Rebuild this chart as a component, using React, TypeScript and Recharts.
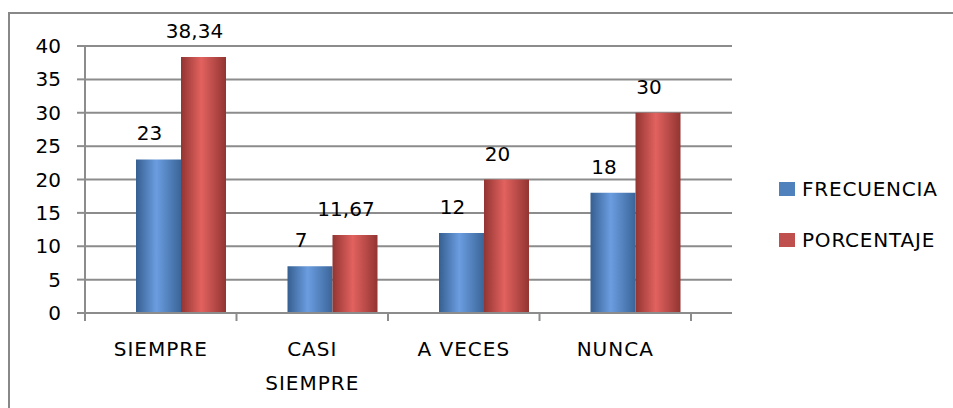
import React from "react";
import { BarChart, Bar, XAxis, YAxis, CartesianGrid, LabelList } from "recharts";

const categories = ["SIEMPRE", "CASI SIEMPRE", "A VECES", "NUNCA"];
const categoryLines = [["SIEMPRE"], ["CASI", "SIEMPRE"], ["A VECES"], ["NUNCA"]];
const frecuencia = [23, 7, 12, 18];
const porcentaje = [38.34, 11.67, 20, 30];
const yTicks = [0, 5, 10, 15, 20, 25, 30, 35, 40];
const seriesNames = ["FRECUENCIA", "PORCENTAJE"];
const seriesColors = ["#4f81bd", "#c0504d"];

const data = categories.map((c, i) => ({
  cat: c,
  frecuencia: frecuencia[i],
  porcentaje: porcentaje[i],
}));

const W = 953;
const H = 408;
const PLOT_LEFT = 85;
const PLOT_RIGHT = 732;
const PLOT_TOP = 46;
const PLOT_BOTTOM = 313;
const DEPTH = 41;
const X_AXIS_H = 60;
const BAND = (PLOT_RIGHT - PLOT_LEFT - DEPTH) / categories.length;
const FONT = "'DejaVu Sans', Verdana, sans-serif";
const GRID = "#8c8c8c";

const fmt = (v: number) => String(v).replace(".", ",");

const CatTick = (props: any) => {
  const { x, y, index } = props;
  const lines = categoryLines[index] || [];
  return (
    <g>
      <line x1={x - BAND / 2} x2={x - BAND / 2} y1={y} y2={y + 8} stroke={GRID} strokeWidth={2} />
      {index === categories.length - 1 && (
        <line x1={x + BAND / 2} x2={x + BAND / 2} y1={y} y2={y + 8} stroke={GRID} strokeWidth={2} />
      )}
      {lines.map((l, i) => (
        <text
          key={i}
          x={x}
          y={y + 36 + i * 34}
          textAnchor="middle"
          dominantBaseline="central"
          fontSize={20}
          letterSpacing={1}
          fontFamily={FONT}
          fill="#000"
        >
          {l}
        </text>
      ))}
    </g>
  );
};

const makeLabel = (props: any) => {
  const { x, y, width, value } = props;
  return (
    <text
      x={x + width / 2 - 9}
      y={y - 26}
      textAnchor="middle"
      dominantBaseline="central"
      fontSize={20}
      fontFamily={FONT}
      fill="#000"
    >
      {fmt(value)}
    </text>
  );
};

export default function App() {
  return (
    <div style={{ position: "absolute", left: 0, top: 0, width: W, height: H, background: "#fff", fontFamily: FONT }}>
      <div
        style={{
          position: "absolute",
          left: 8,
          top: 12,
          width: W - 8,
          height: H - 12,
          borderTop: "2px solid #888",
          borderLeft: "2px solid #888",
          boxSizing: "border-box",
        }}
      />
      <div style={{ position: "absolute", left: 0, top: 0 }}>
        <BarChart
          width={W}
          height={H}
          data={data}
          margin={{ top: PLOT_TOP, right: W - PLOT_RIGHT, bottom: H - PLOT_BOTTOM - X_AXIS_H, left: 0 }}
          barGap={0}
          barCategoryGap={31}
        >
          <defs>
            <linearGradient id="gBlue" x1="0" y1="0" x2="1" y2="0">
              <stop offset="0%" stopColor="#365f91" />
              <stop offset="45%" stopColor="#6b9de0" />
              <stop offset="100%" stopColor="#3a6598" />
            </linearGradient>
            <linearGradient id="gRed" x1="0" y1="0" x2="1" y2="0">
              <stop offset="0%" stopColor="#923532" />
              <stop offset="45%" stopColor="#e2625f" />
              <stop offset="100%" stopColor="#923532" />
            </linearGradient>
          </defs>
          <CartesianGrid horizontal vertical={false} stroke={GRID} strokeWidth={2} xAxisId="cat" />
          <XAxis
            xAxisId="cat"
            dataKey="cat"
            height={X_AXIS_H}
            padding={{ left: 0, right: DEPTH }}
            axisLine={{ stroke: GRID, strokeWidth: 2 }}
            tickLine={false}
            tickSize={0}
            tickMargin={0}
            interval={0}
            tick={<CatTick />}
          />
          <XAxis xAxisId="bars" dataKey="cat" hide height={0} padding={{ left: 20, right: DEPTH - 20 }} />
          <YAxis
            width={PLOT_LEFT}
            domain={[0, 40]}
            ticks={yTicks}
            interval={0}
            tickSize={8}
            tickMargin={16}
            axisLine={{ stroke: GRID, strokeWidth: 2 }}
            tickLine={{ stroke: GRID, strokeWidth: 2 }}
            tick={{ fontSize: 20, fill: "#000", fontFamily: FONT }}
          />
          <Bar xAxisId="bars" dataKey="frecuencia" fill="url(#gBlue)" isAnimationActive={false}>
            <LabelList dataKey="frecuencia" content={makeLabel} />
          </Bar>
          <Bar xAxisId="bars" dataKey="porcentaje" fill="url(#gRed)" isAnimationActive={false}>
            <LabelList dataKey="porcentaje" content={makeLabel} />
          </Bar>
        </BarChart>
      </div>
      {seriesNames.map((n, i) => (
        <div
          key={n}
          style={{
            position: "absolute",
            left: 779,
            top: 178 + i * 51,
            height: 22,
            display: "flex",
            alignItems: "center",
          }}
        >
          <div style={{ width: 16, height: 14, background: seriesColors[i], marginRight: 7 }} />
          <span style={{ fontSize: 20, letterSpacing: 0.8, color: "#000", fontFamily: FONT, lineHeight: "22px" }}>{n}</span>
        </div>
      ))}
    </div>
  );
}
